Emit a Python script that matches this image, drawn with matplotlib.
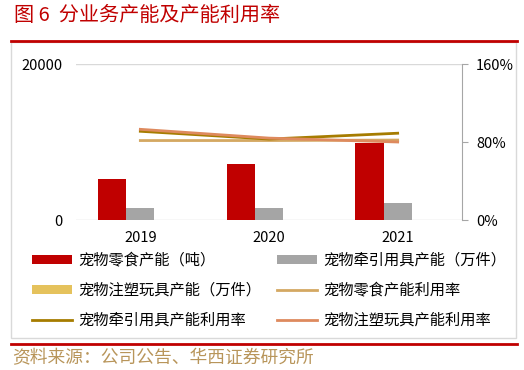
import numpy as np
import matplotlib.pyplot as plt
from matplotlib.patches import Rectangle
from matplotlib.lines import Line2D

plt.rcParams['font.family'] = ['Noto Sans CJK SC', 'DejaVu Sans']

# dados
anos = ['2019', '2020', '2021']
cap_lanche = [5200, 7200, 9900]       # 宠物零食产能（吨）
cap_tracao = [1500, 1500, 2200]       # 宠物牵引用具产能（万件）
cap_brinquedo = [20, 20, 20]          # 宠物注塑玩具产能（万件）
uso_lanche = [81.5, 81.5, 82]         # 宠物零食产能利用率 (%)
uso_tracao = [91, 83, 89]             # 宠物牵引用具产能利用率 (%)
uso_brinquedo = [93, 84, 80]          # 宠物注塑玩具产能利用率 (%)

VERMELHO = '#C00000'
CINZA = '#A5A5A5'
AMARELO = '#E5C25C'
BEGE = '#D4A862'
OURO = '#A67C00'
LARANJA = '#DE8A5E'

fig = plt.figure(figsize=(5.24, 3.70), dpi=100)
W, H = 524, 370

def fy(y):
    return 1 - y / H

# título e moldura
fig.text(14 / W, fy(15), '图 6  分业务产能及产能利用率', color=VERMELHO, fontsize=14.5,
         va='center', ha='left')
fig.add_artist(Rectangle((11 / W, fy(338)), 505 / W, (338 - 42) / H, transform=fig.transFigure,
                         fill=False, edgecolor='#D9D9D9', linewidth=1))
fig.add_artist(Line2D([11 / W, 517 / W], [fy(41), fy(41)], color=VERMELHO, linewidth=2))
fig.add_artist(Line2D([11 / W, 517 / W], [fy(344), fy(344)], color=VERMELHO, linewidth=2))
fig.text(12 / W, fy(358), '资料来源：公司公告、华西证券研究所', color='#B8955A', fontsize=12.8,
         va='center', ha='left')

ax = fig.add_axes([76 / W, fy(220), (462 - 76) / W, (220 - 64) / H])
x = np.arange(len(anos))
larg = 0.22
ax.bar(x - larg, cap_lanche, larg, color=VERMELHO, label='宠物零食产能（吨）')
ax.bar(x, cap_tracao, larg, color=CINZA, label='宠物牵引用具产能（万件）')
ax.bar(x + larg, cap_brinquedo, larg, color=AMARELO, label='宠物注塑玩具产能（万件）')
ax.set_ylim(0, 20000)
ax.set_xlim(-0.5, 2.5)
ax.set_yticks([0, 20000])
ax.set_yticklabels(['0', '20000'])
ax.set_xticks(x)
ax.set_xticklabels(anos)
ax.grid(axis='y', color='#D9D9D9', linewidth=1)
ax.set_axisbelow(True)
for s in ax.spines.values():
    s.set_visible(False)
ax.tick_params(axis='both', length=0, labelsize=10.5, pad=10)
ax.tick_params(axis='x', pad=8)

ax2 = ax.twinx()
ax2.plot(x, uso_lanche, color=BEGE, linewidth=2, label='宠物零食产能利用率')
ax2.plot(x, uso_tracao, color=OURO, linewidth=2, label='宠物牵引用具产能利用率')
ax2.plot(x, uso_brinquedo, color=LARANJA, linewidth=2, label='宠物注塑玩具产能利用率')
ax2.set_ylim(0, 160)
ax2.set_yticks([0, 80, 160])
ax2.set_yticklabels(['0%', '80%', '160%'])
for s in ['top', 'left', 'bottom']:
    ax2.spines[s].set_visible(False)
ax2.spines['right'].set_color('#A6A6A6')
ax2.tick_params(axis='y', length=4, color='#A6A6A6', labelsize=10.5, pad=6)

h1, l1 = ax.get_legend_handles_labels()
h2, l2 = ax2.get_legend_handles_labels()
# duas colunas de legenda, posicionadas separadamente
estilo = dict(frameon=False, fontsize=11, handlelength=2.6, handleheight=0.6,
              labelspacing=0.85, handletextpad=0.45, borderaxespad=0, borderpad=0)
fig.legend([h1[0], h1[2], h2[1]], [l1[0], l1[2], l2[1]], loc='upper left',
           bbox_to_anchor=(32 / W, fy(252)), **estilo)
fig.legend([h1[1], h2[0], h2[2]], [l1[1], l2[0], l2[2]], loc='upper left',
           bbox_to_anchor=(277 / W, fy(252)), **estilo)

plt.savefig('out.png', dpi=100)
